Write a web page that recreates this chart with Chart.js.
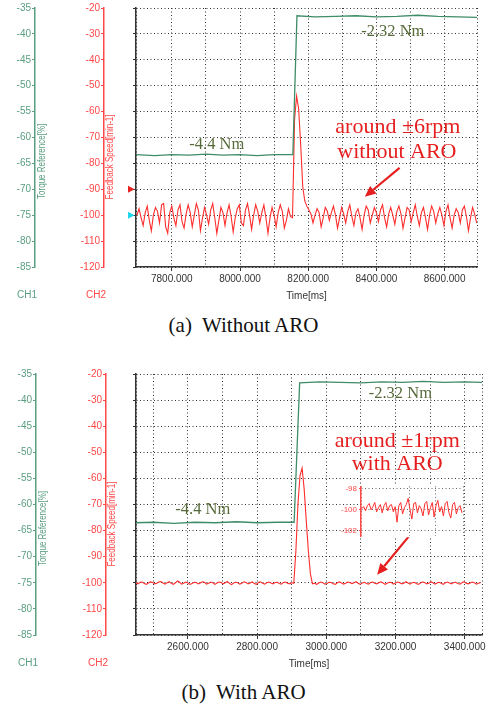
<!DOCTYPE html>
<html>
<head>
<meta charset="utf-8">
<script src="https://cdn.jsdelivr.net/npm/chart.js@4.4.1/dist/chart.umd.min.js"></script>
<style>
  html, body { margin: 0; padding: 0; background: #fff; }
  #page { position: relative; width: 487px; height: 706px; overflow: hidden; }
  canvas { position: absolute; }
  #cvA { left: 0; top: 0; }
  #cvB { left: 0; top: 340px; }
  #cvInset { left: 320px; top: 478px; }
  .caption {
    position: absolute; left: 0; width: 487px; text-align: center;
    font-family: "Liberation Serif", "Times New Roman", serif;
    font-size: 21px; line-height: 24px; color: #111;
  }
</style>
</head>
<body>
<div id="page">
  <canvas id="cvA" width="487" height="310"></canvas>
  <div class="caption" style="top:313px">(a)&nbsp; Without ARO</div>
  <canvas id="cvB" width="487" height="340"></canvas>
  <canvas id="cvInset" width="150" height="65"></canvas>
  <div class="caption" style="top:680px">(b)&nbsp; With ARO</div>
</div>
<script>
// sample period of the speed traces [ms]
const SAMPLE_MS = 6;

// (a) without ARO
const speedStartA = 7698;
const speedA = [
  -100, -97.5, -101, -104, -99, -96.5, -102, -106, -100, -97,
  -98.5, -103, -96, -95.5, -104.5, -107, -99, -96.5, -101, -104,
  -98, -96, -102.5, -105, -99.5, -96, -99, -104.5, -100, -95.5,
  -98, -106, -101, -97, -100, -103.5, -98, -95.5, -101, -107,
  -102, -97, -99, -104, -99, -96, -100.5, -106.5, -101, -97.5,
  -96, -103, -104, -98, -95.5, -100, -105.5, -100, -96, -98.5,
  -103, -99, -96, -101, -107, -101, -97, -100, -104.5, -99,
  -96, -98.5, -105, -102, -97.5, -100.5,
  -101, -63, -54, -59, -73, -89, -94.5, -96.5,
  -98, -99.5, -103, -100, -97.5, -99, -104.5, -101, -97, -98.5,
  -102, -99, -96.5, -100, -105, -101, -97, -99.5, -103, -98.5,
  -96, -100.5, -104, -99, -97.5, -101, -105.5, -100, -96.5, -98,
  -103, -100, -97, -99, -102.5, -98, -96, -101, -104.5, -99.5,
  -97, -100, -103.5, -98.5, -96.5, -99.5, -105, -101, -97, -98,
  -102.5, -99, -96, -100.5, -104, -99, -97, -101, -105.5, -100,
  -96.5, -98.5, -103, -99.5, -97, -100, -104, -98.5, -96, -101,
  -105, -100, -97.5, -99, -103, -98, -96.5, -100.5, -106, -101,
  -97, -99.5, -103
];
const torqueTimesA = [7695, 7750, 7800, 7850, 7900, 7950, 8000, 8050, 8100, 8155,
  8167, 8220, 8280, 8340, 8400, 8460, 8520, 8580, 8640, 8695];
const torqueA = [-63.3, -63.5, -63.3, -63.4, -63.2, -63.4, -63.3, -63.5, -63.3, -63.3,
  -36.5, -36.7, -36.6, -36.5, -36.7, -36.6, -36.4, -36.6, -36.7, -36.8];

// (b) with ARO
const speedStartB = 2450;
const speedB = [
  -100.0, -100.4, -99.8, -99.7, -100.3, -100.6, -100.1, -99.6, -99.9, -100.4,
  -100.2, -99.7, -99.5, -100.1, -100.5, -100.0, -99.6, -100.2, -100.6, -100.0,
  -99.3, -99.8, -100.5, -100.2, -99.7, -100.1, -100.6, -100.3, -99.8, -99.9,
  -100.4, -100.1, -99.6, -99.8, -100.5, -100.2, -99.7, -100.0, -100.6, -100.1,
  -99.7, -99.9, -100.4, -100.0, -99.5, -100.2, -100.7, -100.1, -99.8, -100.0,
  -100.5, -100.2, -99.6, -99.9, -100.4, -100.1, -99.7, -100.3, -100.6, -99.9,
  -99.6, -100.2, -100.5, -100.0, -99.7, -100.1, -100.4, -99.9, -99.8, -100.3,
  -100.5, -99.9, -99.7, -100.2, -100.4, -100.0,
  -100.2, -88, -70, -59, -56, -64, -76, -87.5, -96.5, -100.4,
  -100.2, -100.6, -100.1, -99.7, -100.0, -100.5, -100.3, -99.8, -99.9, -100.4,
  -100.6, -100.0, -99.6, -100.1, -100.5, -100.2, -99.7, -99.9, -100.3, -100.0,
  -99.6, -100.2, -100.6, -100.1, -99.8, -100.3, -100.5, -99.9, -99.7, -100.2,
  -100.4, -100.0, -99.6, -100.1, -100.6, -100.2, -99.8, -99.9, -100.5, -100.1,
  -99.7, -100.0, -100.4, -100.2, -99.6, -100.1, -100.5, -100.0, -99.8, -100.3,
  -100.6, -100.1, -99.7, -99.9, -100.4, -100.2, -99.6, -100.0, -100.5, -100.1,
  -99.8, -100.2, -100.6, -100.0, -99.7, -100.1, -100.4, -99.9, -99.8, -100.3,
  -100.5, -100.0, -99.6, -100.2, -100.4, -100.1, -99.7, -100.0, -100.5, -100.2,
  -99.9
];
const torqueTimesB = [2450, 2500, 2560, 2620, 2680, 2740, 2800, 2860, 2907, 2923,
  2980, 3040, 3100, 3160, 3220, 3280, 3340, 3400, 3450];
const torqueB = [-63.5, -63.4, -63.6, -63.4, -63.5, -63.3, -63.5, -63.4, -63.4, -36.7,
  -36.5, -36.6, -36.7, -36.5, -36.6, -36.4, -36.6, -36.5, -36.6];

// zoomed steady-state speed shown in the small window of (b)
const insetStart = -80;
const insetStep = 7;
const insetSpeed = [
  -99.9, -99.7, -100.1, -99.6, -99.4, -100.0, -99.7, -99.3, -100.2, -99.8,
  -99.5, -100.3, -99.6, -99.3, -100.1, -99.6, -99.5, -100.2, -99.7, -101.2,
  -99.6, -99.3, -100.4, -99.8, -99.5, -98.9, -100.0, -100.9, -99.4, -99.3,
  -100.3, -99.6, -99.9, -100.6, -99.4, -99.2, -100.5, -99.8, -99.3, -100.7,
  -99.6, -99.1, -100.2, -99.7, -100.6, -99.4, -99.2, -100.3, -100.8, -99.5,
  -99.3, -100.4, -99.8, -99.6, -100.3
];
const insetTicks = [-102, -100, -98];

const GREEN = '#3f8c68';
const GREEN_TXT = '#5a9e80';
const RED = '#ff2e2e';
const RED_TXT = '#ff4848';
const NOTE_RED = '#e51f1f';
const OLIVE = '#566a3a';
const CYAN = '#1ed6ea';
const GRID = '#333';
const DOTS = [1, 2.5];
const SANS = '"Liberation Sans", Arial, sans-serif';
const SERIF = '"Liberation Serif", "Times New Roman", serif';

Chart.defaults.font.family = SANS;
Chart.defaults.font.size = 10;

const sampled = (start, values) => values.map((v, i) => ({ x: start + i * SAMPLE_MS, y: v }));
const paired = (times, values) => times.map((t, i) => ({ x: t, y: values[i] }));

// time grid every 100 ms, plus both ends of the window
function timeGrid(s) {
  const out = [{ value: s.min }];
  for (let v = Math.ceil((s.min + 20) / 100) * 100; v < s.max - 20; v += 100) out.push({ value: v });
  out.push({ value: s.max });
  s.ticks = out;
}

function vText(ctx, text, x, y, color) {
  ctx.save();
  ctx.translate(x, y);
  ctx.rotate(-Math.PI / 2);
  ctx.scale(0.8, 1);
  ctx.font = '10px ' + SANS;
  ctx.fillStyle = color;
  ctx.textAlign = 'center';
  ctx.textBaseline = 'middle';
  ctx.fillText(text, 0, 0);
  ctx.restore();
}

function arrow(ctx, x1, y1, x2, y2, color) {
  const a = Math.atan2(y2 - y1, x2 - x1);
  const len = 11, half = 5;
  const bx = x2 - len * Math.cos(a), by = y2 - len * Math.sin(a);
  ctx.save();
  ctx.strokeStyle = color;
  ctx.fillStyle = color;
  ctx.lineWidth = 2.2;
  ctx.beginPath();
  ctx.moveTo(x1, y1);
  ctx.lineTo(bx, by);
  ctx.stroke();
  ctx.beginPath();
  ctx.moveTo(x2, y2);
  ctx.lineTo(bx + half * Math.sin(a), by - half * Math.cos(a));
  ctx.lineTo(bx - half * Math.sin(a), by + half * Math.cos(a));
  ctx.closePath();
  ctx.fill();
  ctx.restore();
}

// axis titles, channel names, level markers and notes
const scopeDecor = {
  id: 'scopeDecor',
  afterDraw(chart, args, opts) {
    const { ctx, chartArea } = chart;
    const { x, ch1, ch2 } = chart.scales;
    vText(ctx, 'Torque Reference[%]', ch1.right + 7.5, ch1.getPixelForValue(-64.6), GREEN_TXT);
    vText(ctx, 'Feedback Speed[min-1]', ch2.right + 6.5, ch2.getPixelForValue(-77.5), RED_TXT);

    ctx.save();
    ctx.font = '10px ' + SANS;
    ctx.textAlign = 'center';
    ctx.textBaseline = 'middle';
    ctx.fillStyle = GREEN_TXT;
    ctx.fillText('CH1', ch1.right - 8, chartArea.bottom + 28);
    ctx.fillStyle = RED_TXT;
    ctx.fillText('CH2', ch2.right - 8, chartArea.bottom + 28);

    (opts.markers || []).forEach(m => {
      const y = ch2.getPixelForValue(m.v);
      ctx.fillStyle = m.color;
      ctx.beginPath();
      ctx.moveTo(chartArea.left - 8, y - 3.5);
      ctx.lineTo(chartArea.left - 1.5, y);
      ctx.lineTo(chartArea.left - 8, y + 3.5);
      ctx.closePath();
      ctx.fill();
    });

    (opts.notes || []).forEach(n => {
      ctx.font = n.size + 'px ' + SERIF;
      ctx.fillStyle = n.color;
      ctx.fillText(n.text, x.getPixelForValue(n.t), ch2.getPixelForValue(n.v));
    });
    ctx.restore();

    (opts.arrows || []).forEach(a => {
      arrow(ctx, x.getPixelForValue(a.from[0]), ch2.getPixelForValue(a.from[1]),
        x.getPixelForValue(a.to[0]), ch2.getPixelForValue(a.to[1]), NOTE_RED);
    });
  }
};

function scopeChart(canvas, cfg) {
  return new Chart(canvas, {
    type: 'line',
    data: {
      datasets: [
        { data: cfg.torque, yAxisID: 'ch1', borderColor: GREEN, borderWidth: 1.3, pointRadius: 0, tension: 0 },
        { data: cfg.speed, yAxisID: 'ch2', borderColor: RED, borderWidth: 1.1, pointRadius: 0, tension: 0 }
      ]
    },
    options: {
      responsive: false,
      animation: false,
      events: [],
      layout: { padding: cfg.padding },
      plugins: {
        legend: { display: false },
        tooltip: { enabled: false },
        scopeDecor: { markers: cfg.markers, notes: cfg.notes, arrows: cfg.arrows }
      },
      scales: {
        x: {
          type: 'linear',
          min: cfg.tMin,
          max: cfg.tMax,
          afterBuildTicks: timeGrid,
          ticks: {
            autoSkip: false,
            maxRotation: 0,
            padding: 2,
            color: '#333',
            callback: v => (v % 200 === 0 ? v.toFixed(3) : '')
          },
          grid: {
            color: GRID,
            tickLength: 4,
            tickColor: c => (c.tick && c.tick.value % 200 === 0 ? '#333' : 'rgba(0,0,0,0)')
          },
          border: { color: '#333', width: 1.5, dash: DOTS },
          title: { display: true, text: 'Time[ms]', color: '#333', font: { size: 10 }, padding: { top: 0, bottom: 1 } },
          afterFit: s => { s.height = 36; }
        },
        ch1: {
          position: 'left',
          weight: 3,
          min: -85,
          max: -35,
          ticks: { stepSize: 5, color: GREEN_TXT, padding: 1 },
          grid: { drawOnChartArea: false, tickLength: 3, tickColor: GREEN_TXT },
          border: { color: GREEN_TXT, width: 1.5 },
          afterFit: s => { s.width = cfg.widths[0]; }
        },
        ch2: {
          position: 'left',
          weight: 2,
          min: -120,
          max: -20,
          ticks: { stepSize: 10, color: RED_TXT, padding: 1 },
          grid: { drawOnChartArea: false, tickLength: 3, tickColor: RED_TXT },
          border: { color: RED_TXT, width: 1.5 },
          afterFit: s => { s.width = cfg.widths[1]; }
        },
        // plot frame: carries the horizontal dotted grid
        frame: {
          position: 'left',
          weight: 1,
          min: -120,
          max: -20,
          ticks: { stepSize: 10, display: false },
          grid: { color: GRID, tickLength: 3, tickColor: '#333' },
          border: { color: '#333', width: 1.5, dash: DOTS },
          afterFit: s => { s.width = cfg.widths[2]; }
        }
      }
    },
    plugins: [scopeDecor]
  });
}

scopeChart(document.getElementById('cvA'), {
  tMin: 7695,
  tMax: 8695,
  padding: { top: 8, right: 10, bottom: 7, left: 0 },
  widths: [35, 69, 32],
  torque: paired(torqueTimesA, torqueA),
  speed: sampled(speedStartA, speedA),
  markers: [{ v: -90, color: '#e8201e' }, { v: -100, color: CYAN }],
  notes: [
    { text: '-4.4 Nm', t: 7932, v: -72.8, size: 16.5, color: OLIVE },
    { text: '-2.32 Nm', t: 8448, v: -29.2, size: 16.5, color: OLIVE },
    { text: 'around \u00b16rpm', t: 8463, v: -66.2, size: 22, color: NOTE_RED },
    { text: 'without ARO', t: 8460, v: -75.5, size: 22, color: NOTE_RED }
  ],
  arrows: [{ from: [8468, -81.7], to: [8366, -92.9] }]
});

scopeChart(document.getElementById('cvB'), {
  tMin: 2450,
  tMax: 3450,
  padding: { top: 34, right: 5, bottom: 9, left: 0 },
  widths: [36, 70, 30],
  torque: paired(torqueTimesB, torqueB),
  speed: sampled(speedStartB, speedB),
  markers: [],
  notes: [
    { text: '-4.4 Nm', t: 2643, v: -72, size: 16.5, color: OLIVE },
    { text: '-2.32 Nm', t: 3214, v: -27.5, size: 16.5, color: OLIVE },
    { text: 'around \u00b11rpm', t: 3205, v: -45.8, size: 22, color: NOTE_RED },
    { text: 'with ARO', t: 3205, v: -54.4, size: 22, color: NOTE_RED }
  ],
  arrows: [{ from: [3238, -82.3], to: [3147, -96.9] }]
});

// inset window: white plot background over the main grid
const insetBackdrop = {
  id: 'insetBackdrop',
  beforeDraw(chart) {
    const { ctx, chartArea } = chart;
    ctx.save();
    ctx.fillStyle = '#fff';
    ctx.fillRect(chartArea.left, chartArea.top - 1, chartArea.right - chartArea.left + 1, chartArea.bottom - chartArea.top + 2);
    ctx.restore();
  }
};

new Chart(document.getElementById('cvInset'), {
  type: 'line',
  data: {
    datasets: [{
      data: insetSpeed.map((v, i) => ({ x: insetStart + i * insetStep, y: v })),
      borderColor: RED,
      borderWidth: 1,
      pointRadius: 0,
      tension: 0
    }]
  },
  options: {
    responsive: false,
    animation: false,
    events: [],
    layout: { padding: { top: 8.4, right: 7, bottom: 6.2, left: 0 } },
    plugins: { legend: { display: false }, tooltip: { enabled: false } },
    scales: {
      x: {
        type: 'linear',
        min: -83,
        max: 302,
        ticks: { display: false, stepSize: 100 },
        grid: { color: '#666', drawTicks: false },
        border: { display: false, dash: DOTS },
        afterFit: s => { s.height = 0; }
      },
      y: {
        min: -102.55,
        max: -97.75,
        afterBuildTicks: s => { s.ticks = insetTicks.map(v => ({ value: v })); },
        ticks: { color: RED_TXT, font: { size: 8 }, padding: 2 },
        grid: { color: '#666', tickLength: 2, tickColor: RED_TXT },
        border: { color: RED_TXT, width: 1.5, dash: DOTS },
        afterFit: s => { s.width = 41; }
      }
    }
  },
  plugins: [insetBackdrop]
});
</script>
</body>
</html>
